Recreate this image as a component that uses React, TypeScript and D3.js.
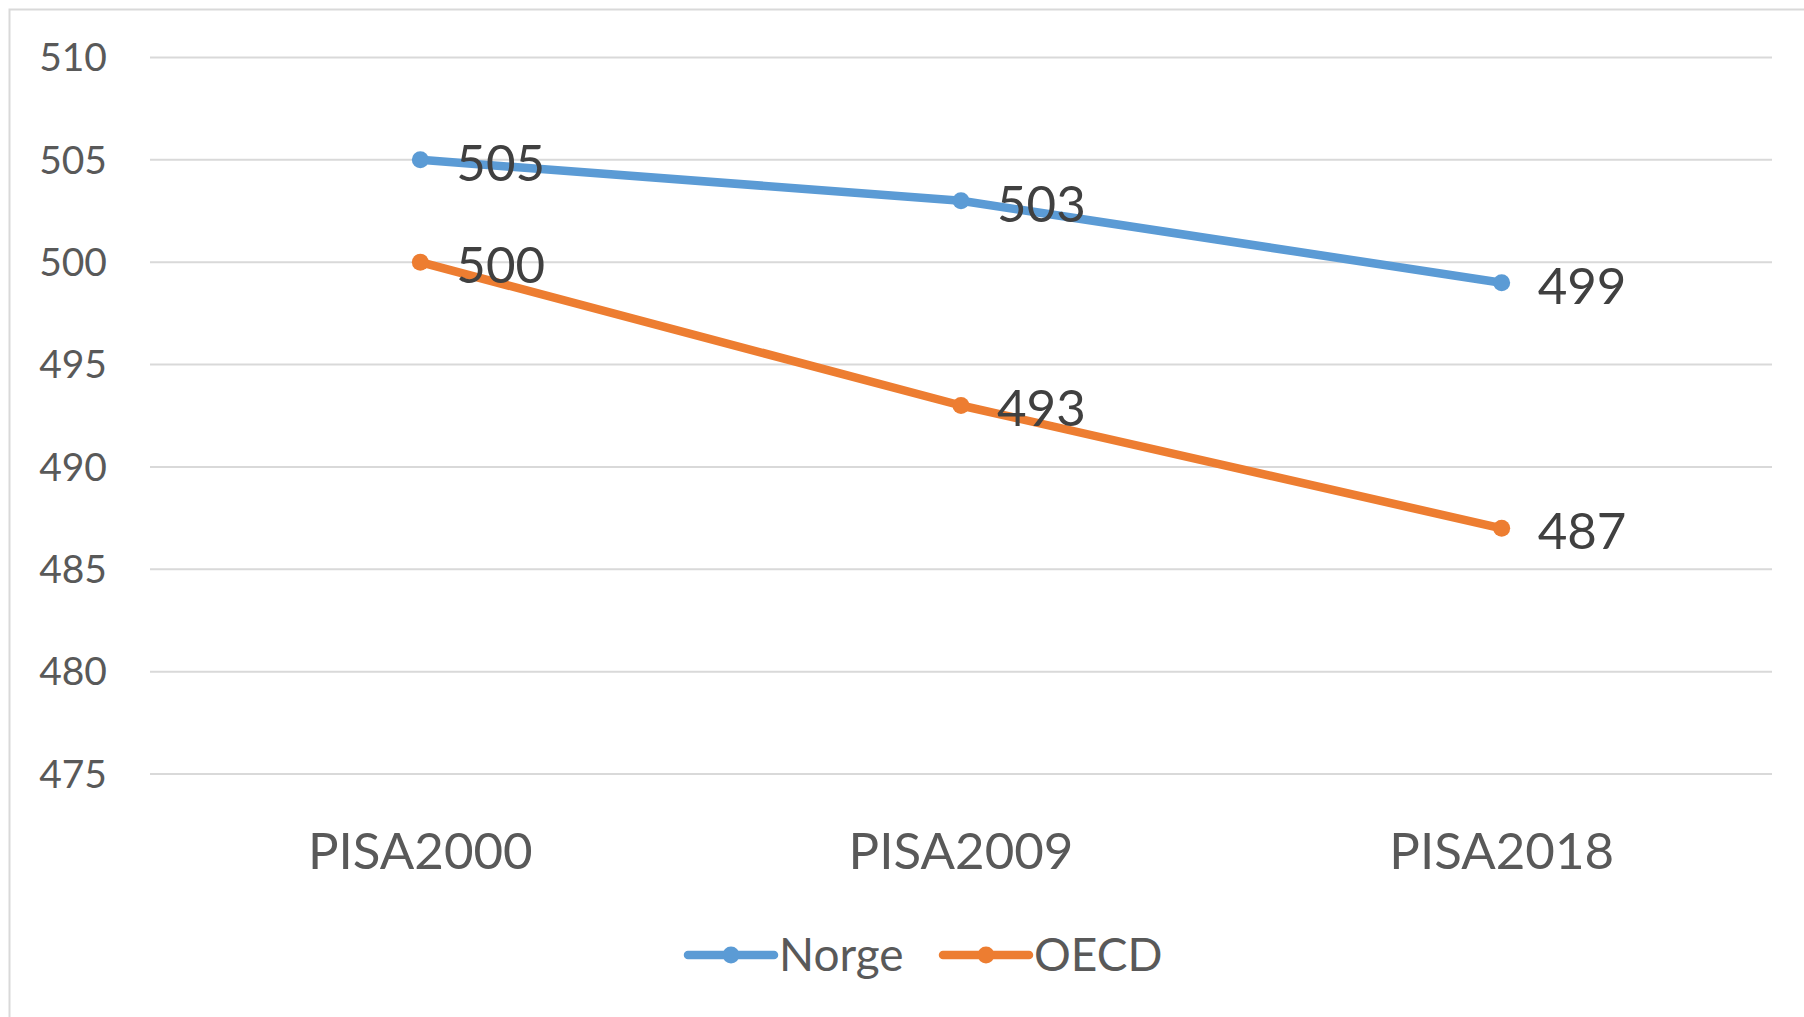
import React from 'react'
import * as d3 from 'd3'

const categories = ['PISA2000', 'PISA2009', 'PISA2018']
const norge = [505, 503, 499]
const oecd = [500, 493, 487]
const yTicks = [475, 480, 485, 490, 495, 500, 505, 510]
const seriesNames = ['Norge', 'OECD']
const seriesColors = ['#5B9BD5', '#ED7D31']

const W = 1804
const H = 1017
const FONT = 'Lato, "Open Sans", sans-serif'

export default function App () {
    const x = d3.scaleBand().domain(categories).range([150, 1772])
    const y = d3.scaleLinear().domain([475, 510]).range([774, 57.5])
    const cx = (c: string) => (x(c) as number) + x.bandwidth() / 2
    const line = d3.line<[string, number]>()
        .x(d => cx(d[0]))
        .y(d => y(d[1]))
    const series = [norge, oecd]

    return <svg width={W} height={H} style={{ position: 'absolute', left: 0, top: 0, background: '#fff' }}>
        <rect x={9.5} y={9.5} width={W + 20} height={H + 20} fill='#fff' stroke='#d9d9d9' strokeWidth={2} />
        {yTicks.map(t => <g key={t}>
            <line x1={150} x2={1772} y1={y(t)} y2={y(t)} stroke='#d9d9d9' strokeWidth={2} />
            <text x={107} y={y(t)} dy='0.35em' textAnchor='end' fontFamily={FONT} fontSize={39} fill='#595959'>{t}</text>
        </g>)}
        {categories.map(c => <text key={c} x={cx(c)} y={851} dy='0.35em' textAnchor='middle'
            fontFamily={FONT} fontSize={51} fill='#595959'>{c}</text>)}
        {series.map((vals, i) => {
            const pts = categories.map((c, j) => [c, vals[j]] as [string, number])
            return <g key={i}>
                <path d={line(pts) || ''} fill='none' stroke={seriesColors[i]} strokeWidth={8.5} strokeLinecap='round' strokeLinejoin='round' />
                {pts.map((p, j) => <circle key={j} cx={cx(p[0])} cy={y(p[1])} r={8.5} fill={seriesColors[i]} />)}
                {pts.map((p, j) => <text key={'l' + j} x={cx(p[0]) + 36} y={y(p[1]) + 3} dy='0.35em'
                    fontFamily={FONT} fontSize={51} fill='#404040'>{p[1]}</text>)}
            </g>
        })}
        {seriesNames.map((n, i) => {
            const lx = [688, 943][i]
            return <g key={n}>
                <line x1={lx} x2={lx + 86} y1={955} y2={955} stroke={seriesColors[i]} strokeWidth={8.5} strokeLinecap='round' />
                <circle cx={lx + 43} cy={955} r={8.5} fill={seriesColors[i]} />
                <text x={lx + 91} y={955} dy='0.35em' fontFamily={FONT} fontSize={46} fill='#595959'>{n}</text>
            </g>
        })}
    </svg>
}
